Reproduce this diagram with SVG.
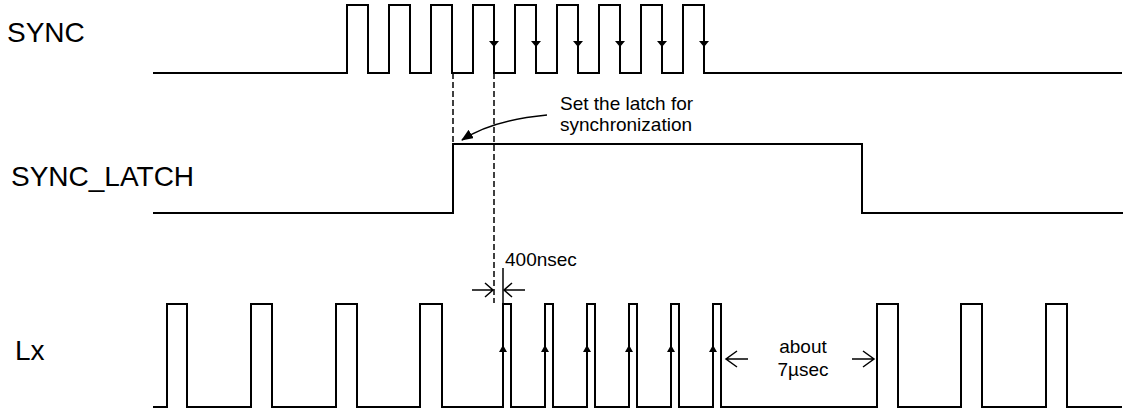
<svg xmlns="http://www.w3.org/2000/svg" width="1125" height="412" viewBox="0 0 1125 412">
<style>
.sig{fill:none;stroke:#000;stroke-width:2;stroke-linejoin:miter}
.dash{fill:none;stroke:#000;stroke-width:1.5;stroke-dasharray:6,3}
.thin{fill:none;stroke:#000;stroke-width:1.5}
.lbl{font-family:"Liberation Sans",Arial,sans-serif;font-size:28px;fill:#000}
.note{font-family:"Liberation Sans",Arial,sans-serif;font-size:19px;fill:#000}
.head{fill:#000}
</style>
<defs>
<marker id="fillhead" markerWidth="12" markerHeight="10" refX="11" refY="5" orient="auto" markerUnits="userSpaceOnUse">
<path d="M0,0 L12,5 L0,10 Z" fill="#000"/>
</marker>
</defs>
<rect width="1125" height="412" fill="#fff"/>
<g id="labels">
<text class="lbl" x="7" y="42">SYNC</text>
<text class="lbl" x="11" y="186">SYNC_LATCH</text>
<text class="lbl" x="15" y="360">Lx</text>
</g>
<g id="sync">
<path class="sig" d="M153,73 H347 V5 H368 V73 H389 V5 H410 V73 H431 V5 H452 V73 H473 V5 H494 V73 H515 V5 H536 V73 H557 V5 H578 V73 H599 V5 H620 V73 H641 V5 H662 V73 H683 V5 H704 V73 H1122"/>
<path class="head" d="M489,41 H499 L494,47 Z M531,41 H541 L536,47 Z M573,41 H583 L578,47 Z M615,41 H625 L620,47 Z M657,41 H667 L662,47 Z M699,41 H709 L704,47 Z"/>
</g>
<g id="sync_latch">
<path class="sig" d="M153,213 H453 V144 H862 V213 H1123"/>
</g>
<g id="lx">
<path class="sig" d="M153,407 H167 V304 H187 V407 H251 V304 H272 V407 H336 V304 H357 V407 H420 V304 H442 V407 H503 V304 H511 V407 H545 V304 H553 V407 H587 V304 H595 V407 H629 V304 H637 V407 H671 V304 H679 V407 H713 V304 H721 V407 H877 V304 H898 V407 H961 V304 H982 V407 H1046 V304 H1067 V407 H1122"/>
<path class="head" d="M499,352 H507 L503,345 Z M541,352 H549 L545,345 Z M583,352 H591 L587,345 Z M625,352 H633 L629,345 Z M667,352 H675 L671,345 Z M709,352 H717 L713,345 Z"/>
</g>
<g id="connectors">
<path class="dash" d="M453,73 V144"/>
<path class="dash" d="M494,73 V303"/>
<path class="thin" d="M503,268 V304"/>
<path class="thin" d="M472,290 H493 M485,283 L493,290 L485,297"/>
<path class="thin" d="M525,290 H504 M512,283 L504,290 L512,297"/>
<path class="thin" d="M748,359 H726 M737,351 L726,359 L737,367"/>
<path class="thin" d="M852,359 H874 M863,351 L874,359 L863,367"/>
<path class="thin" d="M547,115 C515,118 485,125 462,140" marker-end="url(#fillhead)"/>
</g>
<g id="notes">
<text class="note" x="560" y="110">Set the latch for</text>
<text class="note" x="560" y="131">synchronization</text>
<text class="note" x="505" y="266">400nsec</text>
<text class="note" x="803" y="353" text-anchor="middle">about</text>
<text class="note" x="803" y="376" text-anchor="middle">7µsec</text>
</g>
</svg>
